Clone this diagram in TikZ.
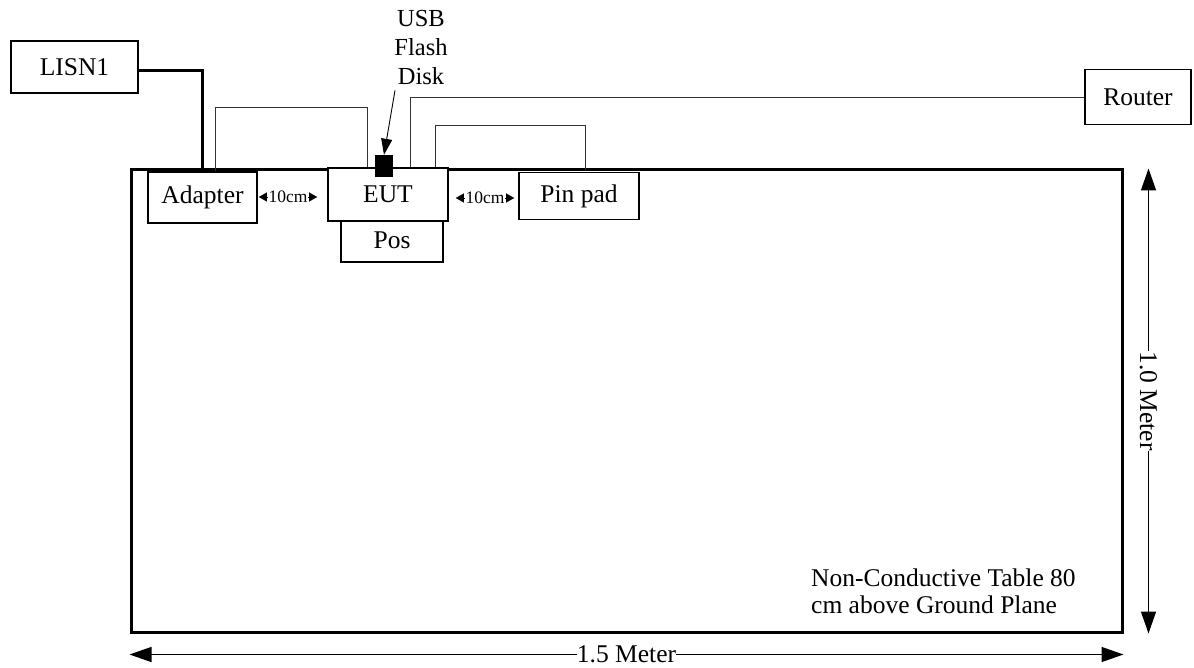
\documentclass[tikz,border=0pt]{standalone}
\usepackage{fontspec}
\setmainfont{Liberation Serif}
\usetikzlibrary{arrows.meta,calc}
\begin{document}
\begin{tikzpicture}[x=1pt,y=-1pt,
  box/.style={draw,line width=1.2pt,fill=white,inner sep=0pt,font=\fontsize{25.5}{28}\selectfont},
  wire/.style={draw,line width=0.9pt,black!80},
  power/.style={draw,line width=3pt},
  tbl/.style={draw,line width=3pt,inner sep=0pt},
  gap/.style={font=\fontsize{17.5}{18}\selectfont,inner sep=0.5pt},
  gaparrow/.style={-{Triangle[length=8pt,width=9pt]},line width=0.1pt},
  dimline/.style={{Triangle[length=22pt,width=15pt]}-{Triangle[length=22pt,width=15pt]},line width=1.4pt},
  dimlabel/.style={fill=white,inner sep=0pt,font=\fontsize{25.5}{28}\selectfont}
]
\useasboundingbox (0,0) rectangle (1194,668);
% table
\node[tbl,minimum width=991pt,minimum height=462pt] (table) at (626.5,401) {};
% boxes
\node[box,minimum width=127pt,minimum height=52pt] (lisn) at (74.5,67) {LISN1};
\node[box,minimum width=109pt,minimum height=51pt] (adapter) at (202.5,197.5) {Adapter};
\node[box,minimum width=102pt,minimum height=43pt] (pos) at (392,240.5) {Pos};
\node[box,minimum width=120pt,minimum height=53pt] (eut) at (388,194.5) {EUT};
\node[box,minimum width=120pt,minimum height=47pt] (pinpad) at (579,196) {Pin pad};
\node[box,minimum width=106pt,minimum height=55pt] (router) at (1138,97) {Router};
% USB flash disk
\node[fill=black,minimum width=18pt,minimum height=22pt,inner sep=0pt] (usb) at (384,166) {};
\node[align=center,inner sep=0pt,font=\fontsize{24.5}{29}\selectfont] (usblabel) at (421,48) {USB\\Flash\\Disk};
\draw[-{Triangle[length=16pt,width=11pt]},line width=0.9pt] ([xshift=-26pt,yshift=-5pt]usblabel.south) -- (usb.north);
% cables
\draw[power] ([yshift=-4pt]lisn.east) -| ([yshift=1pt]adapter.north);
\draw[wire] ([xshift=68pt]adapter.north west) -- ++(0,-64) -| ([xshift=40pt]eut.north west);
\draw[wire] ([xshift=83pt]eut.north west) |- (router.west);
\draw[wire] ([xshift=108pt]eut.north west) -- ++(0,-42) -| ([xshift=67pt,yshift=2pt]pinpad.north west);
% 10cm gaps
\node[gap] (gap1) at (288,197) {10cm};
\coordinate (g1l) at ([xshift=-9pt]gap1.west);
\coordinate (g1r) at ([xshift=9pt]gap1.east);
\draw[gaparrow] (gap1.west) -- (g1l);
\draw[gaparrow] (gap1.east) -- (g1r);
\node[gap] (gap2) at (485,198) {10cm};
\coordinate (g2l) at ([xshift=-9pt]gap2.west);
\coordinate (g2r) at ([xshift=9pt]gap2.east);
\draw[gaparrow] (gap2.west) -- (g2l);
\draw[gaparrow] (gap2.east) -- (g2r);
% dimensions
\draw[dimline] ([xshift=25pt]table.north east) -- ([xshift=25pt]table.south east)
  node[dimlabel,midway,rotate=-90] (vdim) {1.0 Meter};
\draw[dimline] ([yshift=-21pt]table.south west) -- ([yshift=-21pt]table.south east)
  node[dimlabel,midway] (hdim) {1.5 Meter};
% table note
\node[anchor=west,align=left,inner sep=0pt,font=\fontsize{25.5}{27}\selectfont] (note) at (811,591) {Non-Conductive Table 80\\cm above Ground Plane};
\end{tikzpicture}
\end{document}
